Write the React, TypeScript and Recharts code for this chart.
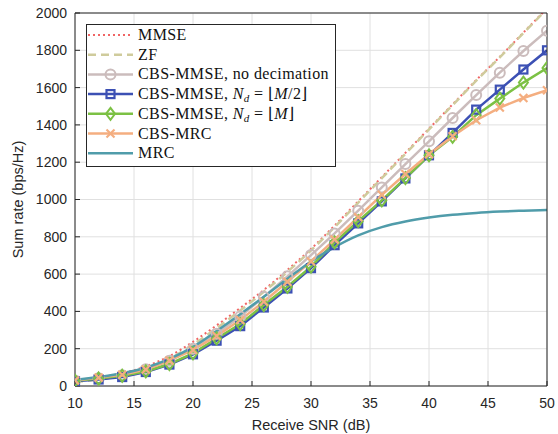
import React from "react";
import {
  LineChart,
  Line,
  XAxis,
  YAxis,
  CartesianGrid,
} from "recharts";

// Receive SNR (dB)
const snr = [10, 12, 14, 16, 18, 20, 22, 24, 26, 28, 30, 32, 34, 36, 38, 40, 42, 44, 46, 48, 50];

// sum rate (bps/Hz)
const mmse = [30, 45, 68, 105, 160, 237, 325, 418, 515, 622, 735, 860, 990, 1120, 1250, 1380, 1510, 1640, 1765, 1895, 2025];
const zf = [22, 35, 55, 90, 145, 222, 310, 405, 505, 612, 727, 852, 983, 1114, 1245, 1376, 1506, 1637, 1762, 1892, 2022];
const cbsNoDec = [30, 42, 58, 90, 135, 200, 280, 372, 478, 588, 702, 818, 940, 1065, 1190, 1312, 1437, 1560, 1680, 1796, 1905];
const cbsHalf = [25, 35, 48, 75, 115, 170, 243, 321, 421, 523, 632, 755, 872, 990, 1113, 1237, 1357, 1482, 1589, 1697, 1800];
const cbsFull = [28, 40, 55, 78, 118, 175, 255, 332, 434, 532, 640, 770, 884, 995, 1115, 1237, 1336, 1452, 1541, 1627, 1705];
const cbsMrc = [30, 45, 60, 88, 136, 193, 268, 354, 452, 559, 668, 785, 905, 1025, 1137, 1243, 1339, 1425, 1493, 1544, 1586];
const mrc = [32, 48, 68, 98, 145, 210, 295, 385, 478, 575, 668, 745, 808, 852, 882, 903, 918, 928, 935, 940, 944];

const xTicks = [10, 15, 20, 25, 30, 35, 40, 45, 50];
const yTicks = [0, 200, 400, 600, 800, 1000, 1200, 1400, 1600, 1800, 2000];

const data = snr.map((x, i) => ({
  x,
  mmse: mmse[i],
  zf: zf[i],
  noDec: cbsNoDec[i],
  half: cbsHalf[i],
  full: cbsFull[i],
  cmrc: cbsMrc[i],
  mrc: mrc[i],
}));

const C = {
  mmse: "#f06565",
  zf: "#cfcb9c",
  noDec: "#cbbcbc",
  half: "#3c50b4",
  full: "#7cc144",
  cmrc: "#f4ae80",
  mrc: "#509caa",
  axis: "#262626",
};

type Shape = "circle" | "square" | "diamond" | "x";

function Marker({ shape, cx, cy, color }: { shape: Shape; cx: number; cy: number; color: string }) {
  if (shape === "circle")
    return <circle cx={cx} cy={cy} r={5} fill="none" stroke={color} strokeWidth={2} />;
  if (shape === "square")
    return <rect x={cx - 4} y={cy - 4} width={8} height={8} fill="none" stroke={color} strokeWidth={2.2} />;
  if (shape === "diamond")
    return (
      <path
        d={`M${cx},${cy - 6}L${cx + 4.5},${cy}L${cx},${cy + 6}L${cx - 4.5},${cy}Z`}
        fill="none"
        stroke={color}
        strokeWidth={2}
      />
    );
  return (
    <path
      d={`M${cx - 4},${cy - 4}L${cx + 4},${cy + 4}M${cx - 4},${cy + 4}L${cx + 4},${cy - 4}`}
      stroke={color}
      strokeWidth={2.2}
    />
  );
}

const dot = (shape: Shape, color: string) => (p: any) => {
  const { cx, cy, index } = p;
  if (cx == null || cy == null) return <g key={index} />;
  return (
    <g key={index}>
      <Marker shape={shape} cx={cx} cy={cy} color={color} />
    </g>
  );
};

const legendRows: { label: React.ReactNode; color: string; dash?: string; shape?: Shape }[] = [
  { label: "MMSE", color: C.mmse, dash: "2 3" },
  { label: "ZF", color: C.zf, dash: "8 5" },
  { label: "CBS-MMSE, no decimation", color: C.noDec, shape: "circle" },
  {
    label: (
      <>
        CBS-MMSE, <tspan fontStyle="italic">N</tspan>
        <tspan fontStyle="italic" fontSize="11" dy="3">d</tspan>
        <tspan dy="-3"> = ⌊</tspan>
        <tspan fontStyle="italic">M</tspan>/2⌋
      </>
    ),
    color: C.half,
    shape: "square",
  },
  {
    label: (
      <>
        CBS-MMSE, <tspan fontStyle="italic">N</tspan>
        <tspan fontStyle="italic" fontSize="11" dy="3">d</tspan>
        <tspan dy="-3"> = ⌊</tspan>
        <tspan fontStyle="italic">M</tspan>⌋
      </>
    ),
    color: C.full,
    shape: "diamond",
  },
  { label: "CBS-MRC", color: C.cmrc, shape: "x" },
  { label: "MRC", color: C.mrc },
];

function LegendBox() {
  return (
    <svg
      width={250}
      height={143}
      style={{ position: "absolute", left: 86, top: 24, overflow: "visible" }}
    >
      <rect x={0.5} y={0.5} width={249} height={142} fill="#fff" stroke={C.axis} strokeWidth={1} />
      {legendRows.map((r, i) => {
        const y = 11 + i * 19.7;
        return (
          <g key={i}>
            <line
              x1={2}
              x2={47}
              y1={y}
              y2={y}
              stroke={r.color}
              strokeWidth={r.dash === "2 3" ? 2 : 2.5}
              strokeDasharray={r.dash}
            />
            {r.shape && <Marker shape={r.shape} cx={24.5} cy={y} color={r.color} />}
            <text
              x={52}
              y={y + 5}
              fontFamily="'Liberation Serif', serif"
              fontSize={16}
              letterSpacing={0.4}
              fill="#111"
            >
              {r.label}
            </text>
          </g>
        );
      })}
    </svg>
  );
}

const tickStyle = { fontFamily: "'Liberation Sans', Arial, sans-serif", fontSize: 14, fill: C.axis };

export default function App() {
  return (
    <div style={{ position: "absolute", left: 0, top: 0, width: 558, height: 434, background: "#fff" }}>
      <LineChart
        width={558}
        height={434}
        data={data}
        margin={{ top: 0, right: 0, bottom: 0, left: 0 }}
      >
        <CartesianGrid stroke="#e0e0e0" strokeWidth={1} xAxisId="bottom" yAxisId="left" />
        <XAxis
          xAxisId="bottom"
          dataKey="x"
          type="number"
          domain={[10, 50]}
          allowDataOverflow
          ticks={xTicks}
          height={48}
          tickSize={-5}
          tickMargin={17}
          stroke={C.axis}
          tick={tickStyle}
          label={{
            value: "Receive SNR (dB)",
            position: "insideBottom",
            offset: 4,
            style: { ...tickStyle, fontSize: 14.5 },
          }}
        />
        <XAxis
          xAxisId="top"
          orientation="top"
          dataKey="x"
          type="number"
          domain={[10, 50]}
          allowDataOverflow
          ticks={xTicks}
          height={13}
          tickSize={-5}
          tick={false}
          stroke={C.axis}
        />
        <YAxis
          yAxisId="left"
          type="number"
          domain={[0, 2000]}
          allowDataOverflow
          ticks={yTicks}
          width={75}
          tickSize={-5}
          tickMargin={13}
          stroke={C.axis}
          tick={tickStyle}
          label={{
            value: "Sum rate (bps/Hz)",
            angle: -90,
            position: "insideLeft",
            offset: 18,
            style: { ...tickStyle, fontSize: 14.5, textAnchor: "middle" },
          }}
        />
        <YAxis
          yAxisId="right"
          orientation="right"
          type="number"
          domain={[0, 2000]}
          allowDataOverflow
          ticks={yTicks}
          width={11}
          tickSize={-5}
          tick={false}
          stroke={C.axis}
        />
        <Line xAxisId="bottom" yAxisId="left" type="monotone" dataKey="mmse" stroke={C.mmse} strokeWidth={2} strokeDasharray="2 3" dot={false} isAnimationActive={false} />
        <Line xAxisId="bottom" yAxisId="left" type="monotone" dataKey="zf" stroke={C.zf} strokeWidth={2.5} strokeDasharray="8 5" dot={false} isAnimationActive={false} />
        <Line xAxisId="bottom" yAxisId="left" type="linear" dataKey="noDec" stroke={C.noDec} strokeWidth={2.5} dot={dot("circle", C.noDec)} isAnimationActive={false} />
        <Line xAxisId="bottom" yAxisId="left" type="linear" dataKey="half" stroke={C.half} strokeWidth={2.5} dot={dot("square", C.half)} isAnimationActive={false} />
        <Line xAxisId="bottom" yAxisId="left" type="linear" dataKey="full" stroke={C.full} strokeWidth={2.5} dot={dot("diamond", C.full)} isAnimationActive={false} />
        <Line xAxisId="bottom" yAxisId="left" type="linear" dataKey="cmrc" stroke={C.cmrc} strokeWidth={2.5} dot={dot("x", C.cmrc)} isAnimationActive={false} />
        <Line xAxisId="bottom" yAxisId="left" type="monotone" dataKey="mrc" stroke={C.mrc} strokeWidth={2.5} dot={false} isAnimationActive={false} />
      </LineChart>
      <LegendBox />
    </div>
  );
}
